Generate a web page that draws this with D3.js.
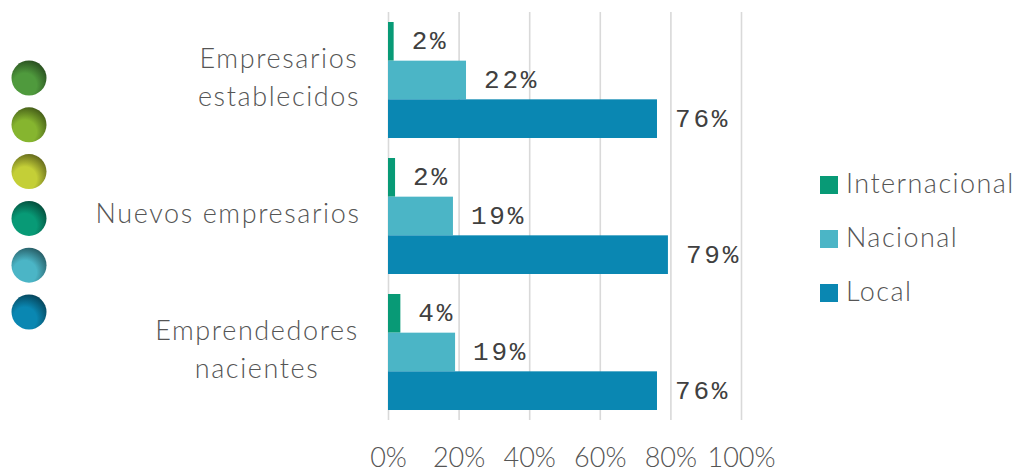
<!DOCTYPE html>
<html><head><meta charset="utf-8">
<script src="https://cdnjs.cloudflare.com/ajax/libs/d3/7.8.5/d3.min.js"></script>
<style>html,body{margin:0;background:#fff}svg{display:block}</style></head>
<body><svg id="c" width="1017" height="473"></svg>
<script>
const categories=["Empresarios establecidos","Nuevos empresarios","Emprendedores nacientes"];
const categoryLines=[["Empresarios","establecidos"],["Nuevos empresarios"],["Emprendedores","nacientes"]];
const seriesNames=["Internacional","Nacional","Local"];
const internacional=[1.6,2,3.5];
const nacional=[22.1,18.4,19];
const local=[76.2,79.3,76.2];
const labelsInternacional=["2%","2%","4%"];
const labelsNacional=["22%","19%","19%"];
const labelsLocal=["76%","79%","76%"];
const seriesColors=["#089a76","#4bb5c6","#0a87b2"];
const ticks=[0,20,40,60,80,100];
const sphereColors=["#4f9a3d","#86b52f","#c4cf37","#089a76","#4bb5c6","#0a87b2"];

const svg=d3.select("#c");
const sans="Lato, Carlito, sans-serif", mono="'Liberation Mono', monospace";
const textCol="#555555";
const x=d3.scaleLinear().domain([0,100]).range([388,741]);
const y=d3.scaleBand().domain(categories).range([12,420]).paddingInner(0.147).paddingOuter(0.0735);
const yS=d3.scaleBand().domain(seriesNames).range([0,y.bandwidth()]);

// spheres
const defs=svg.append("defs");
sphereColors.forEach((c,i)=>{
  const g=defs.append("radialGradient").attr("id","s"+i).attr("cx",0.38).attr("cy",0.7).attr("r",0.75);
  g.append("stop").attr("offset",0).attr("stop-color",c);
  g.append("stop").attr("offset",0.45).attr("stop-color",c);
  g.append("stop").attr("offset",1).attr("stop-color",d3.color(c).darker(2));
});
const sphereY=d3.scalePoint().domain(d3.range(6)).range([78,312]);
svg.selectAll("circle.s").data(sphereColors).join("circle").attr("class","s")
  .attr("cx",29).attr("cy",(d,i)=>sphereY(i)).attr("r",17.5).attr("fill",(d,i)=>`url(#s${i})`);

// axis
const axis=svg.append("g").attr("transform","translate(0,420)")
  .call(d3.axisBottom(x).tickValues(ticks).tickFormat(d=>d+"%").tickSize(408).tickPadding(0));
axis.select(".domain").remove();
axis.selectAll("line").attr("transform","translate(0,-408)").attr("stroke","#d9d9d9").attr("stroke-width",1.6);
axis.selectAll("text").attr("y",47).attr("dy",0).attr("font-family",sans).attr("font-weight",300)
  .attr("font-size",27).attr("fill",textCol);

// bars
const rows=[internacional,nacional,local];
const labs=[labelsInternacional,labelsNacional,labelsLocal];
seriesNames.forEach((s,k)=>{
  const g=svg.append("g");
  g.selectAll("rect").data(rows[k]).join("rect")
    .attr("x",x(0)).attr("y",(d,i)=>y(categories[i])+yS(s))
    .attr("width",d=>x(d)-x(0)).attr("height",yS.bandwidth())
    .attr("fill",seriesColors[k]);
  g.selectAll("text").data(rows[k]).join("text")
    .attr("x",d=>x(d)+18).attr("y",(d,i)=>y(categories[i])+yS(s)+yS.bandwidth()/2+8)
    .attr("font-family",mono).attr("font-size",26).attr("fill","#404040")
    .attr("letter-spacing",2.8)
    .text((d,i)=>labs[k][i]);
});

// category labels
categories.forEach((c,i)=>{
  const lines=categoryLines[i], cy=y(c)+y.bandwidth()/2;
  const t=svg.append("text").attr("text-anchor","middle").attr("font-family",sans).attr("font-weight",300)
    .attr("font-size",27).attr("fill",textCol).attr("letter-spacing",1.6);
  lines.forEach((l,j)=>{
    t.append("tspan").attr("x",lines.length>1?(i==0?279:257):228)
     .attr("y",cy+7+(j-(lines.length-1)/2)*38).text(l);
  });
});

// legend
const legY=d3.scalePoint().domain(seriesNames).range([184,292]);
const leg=svg.append("g");
leg.selectAll("rect").data(seriesNames).join("rect")
  .attr("x",820).attr("y",d=>legY(d)-8).attr("width",18).attr("height",18)
  .attr("fill",(d,i)=>seriesColors[i]);
leg.selectAll("text").data(seriesNames).join("text")
  .attr("x",846).attr("y",d=>legY(d)+9).attr("font-family",sans).attr("font-weight",300)
  .attr("font-size",27).attr("fill",textCol).attr("letter-spacing",1.45).text(d=>d);
</script></body></html>
